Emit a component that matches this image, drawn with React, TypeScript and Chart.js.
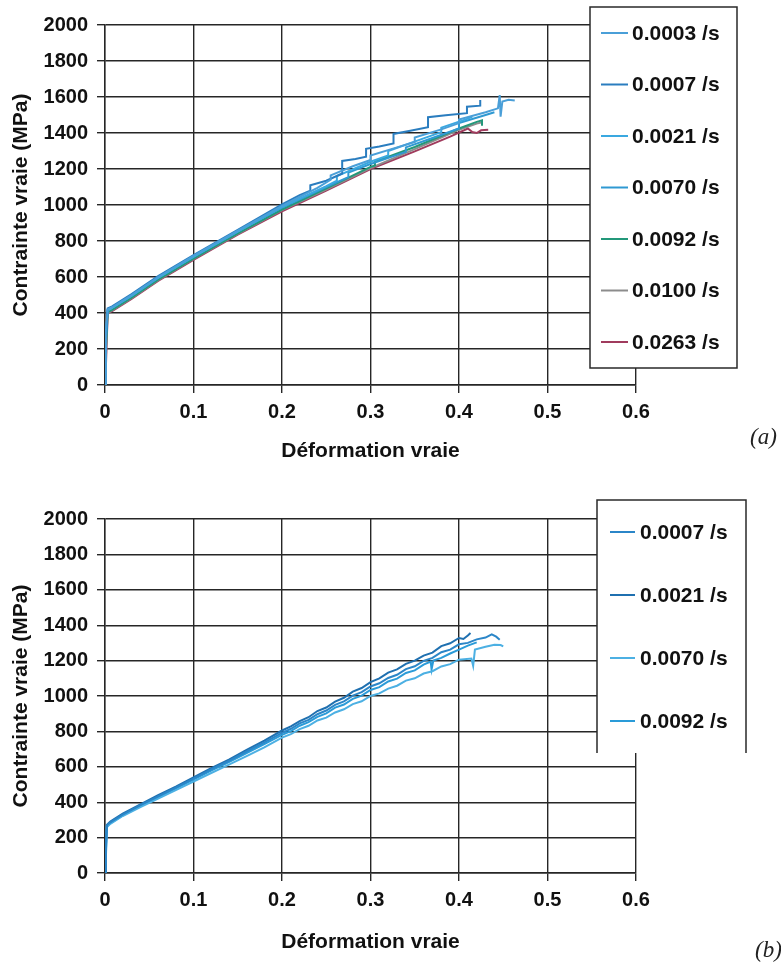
import React, { useEffect, useRef } from "react";
import { Chart, registerables } from "chart.js";
Chart.register(...registerables);

const FONT = '"Liberation Sans", Arial, sans-serif';

const X_TICK_LABELS = ["0", "0.1", "0.2", "0.3", "0.4", "0.5", "0.6"];
const Y_TICK_LABELS = ["0", "200", "400", "600", "800", "1000", "1200", "1400", "1600", "1800", "2000"];
const X_TITLE = "Déformation vraie";
const Y_TITLE = "Contrainte vraie (MPa)";

// ---- Panel (a) ----
const A_LABELS = ["0.0003 /s", "0.0007 /s", "0.0021 /s", "0.0070 /s", "0.0092 /s", "0.0100 /s", "0.0263 /s"];
const A_COLORS = ["#4a9fd8", "#2a7dbf", "#3aa8e0", "#2f99d2", "#23987a", "#8c8c8c", "#a03b5d"];

const A_0003: number[][] = [[0,0],[0.001,300],[0.003,420],[0.008,432],[0.03,500],[0.06,600],[0.1,718],[0.15,858],[0.2,995],[0.24,1095],[0.255,1140],[0.255,1165],[0.28,1215],[0.3,1250],[0.3,1275],[0.33,1320],[0.35,1350],[0.35,1375],[0.38,1420],[0.4,1455],[0.4,1475],[0.43,1515],[0.444,1537],[0.446,1611],[0.447,1491],[0.449,1575],[0.456,1585],[0.463,1580]];
const A_0007: number[][] = [[0,0],[0.001,250],[0.003,425],[0.008,437],[0.03,505],[0.06,605],[0.1,722],[0.15,862],[0.2,1003],[0.22,1055],[0.232,1080],[0.232,1110],[0.25,1135],[0.268,1175],[0.268,1245],[0.283,1255],[0.295,1268],[0.295,1312],[0.31,1325],[0.326,1342],[0.326,1395],[0.345,1412],[0.365,1432],[0.365,1488],[0.385,1498],[0.409,1510],[0.409,1546],[0.424,1552],[0.424,1583]];
const A_0021: number[][] = [[0,0],[0.001,280],[0.003,415],[0.008,428],[0.03,495],[0.06,595],[0.1,712],[0.15,852],[0.2,990],[0.25,1105],[0.262,1135],[0.262,1160],[0.3,1240],[0.32,1275],[0.32,1300],[0.36,1370],[0.38,1405],[0.38,1430],[0.41,1480],[0.415,1490]];
const A_0070: number[][] = [[0,0],[0.001,260],[0.003,418],[0.008,430],[0.03,497],[0.06,597],[0.1,714],[0.15,853],[0.2,985],[0.25,1100],[0.275,1155],[0.275,1180],[0.3,1228],[0.34,1295],[0.34,1320],[0.37,1372],[0.4,1425],[0.4,1455],[0.43,1500],[0.44,1515]];
const A_0092: number[][] = [[0,0],[0.001,200],[0.003,405],[0.008,418],[0.03,485],[0.06,585],[0.1,702],[0.15,842],[0.2,975],[0.25,1092],[0.3,1212],[0.305,1220],[0.305,1240],[0.35,1322],[0.4,1425],[0.42,1462],[0.426,1470],[0.426,1440]];
const A_0100: number[][] = [[0,0],[0.001,150],[0.003,400],[0.008,414],[0.03,482],[0.06,582],[0.1,700],[0.15,840],[0.2,972],[0.25,1086],[0.3,1205],[0.35,1310],[0.4,1418],[0.42,1452],[0.425,1458]];
const A_0263: number[][] = [[0,0],[0.001,100],[0.003,398],[0.008,410],[0.03,478],[0.06,578],[0.1,695],[0.15,835],[0.2,965],[0.25,1080],[0.3,1200],[0.35,1298],[0.39,1380],[0.41,1425],[0.415,1405],[0.42,1400],[0.425,1415],[0.433,1418]];
const A_SERIES = [A_0003, A_0007, A_0021, A_0070, A_0092, A_0100, A_0263];

// ---- Panel (b) ----
const B_LABELS = ["0.0007 /s", "0.0021 /s", "0.0070 /s", "0.0092 /s"];
const B_COLORS = ["#2b86c8", "#1f70b0", "#4cb0e3", "#2a9bd8"];

const B_0007: number[][] = [[0,0],[0.001,120],[0.002,268],[0.006,286],[0.02,330],[0.04,383],[0.06,433],[0.08,482],[0.1,533],[0.12,585],[0.14,633],[0.16,687],[0.18,738],[0.2,792],[0.21,815],[0.22,845],[0.23,865],[0.24,897],[0.25,918],[0.26,950],[0.27,970],[0.28,1002],[0.29,1022],[0.3,1054],[0.31,1072],[0.32,1102],[0.33,1120],[0.34,1152],[0.35,1168],[0.36,1198],[0.37,1215],[0.38,1247],[0.39,1262],[0.4,1292],[0.41,1300],[0.42,1320],[0.43,1330],[0.437,1348],[0.442,1335],[0.446,1318]];
const B_0021: number[][] = [[0,0],[0.001,150],[0.002,272],[0.006,290],[0.02,335],[0.04,388],[0.06,440],[0.08,488],[0.1,540],[0.12,592],[0.14,640],[0.16,695],[0.18,748],[0.2,805],[0.21,828],[0.22,858],[0.23,880],[0.24,915],[0.25,935],[0.26,968],[0.27,990],[0.28,1025],[0.29,1045],[0.3,1078],[0.31,1100],[0.32,1132],[0.33,1150],[0.34,1182],[0.35,1200],[0.36,1228],[0.37,1245],[0.38,1282],[0.39,1298],[0.4,1328],[0.405,1322],[0.41,1342],[0.413,1356]];
const B_0070: number[][] = [[0,0],[0.001,80],[0.002,258],[0.006,278],[0.02,322],[0.04,372],[0.06,420],[0.08,468],[0.1,517],[0.12,565],[0.14,612],[0.16,660],[0.18,710],[0.2,765],[0.21,785],[0.22,813],[0.23,832],[0.24,862],[0.25,878],[0.26,907],[0.27,925],[0.28,954],[0.29,970],[0.3,1000],[0.31,1015],[0.32,1042],[0.33,1058],[0.34,1087],[0.35,1100],[0.36,1127],[0.37,1140],[0.38,1167],[0.39,1180],[0.4,1205],[0.414,1212],[0.416,1170],[0.418,1262],[0.43,1278],[0.44,1290],[0.447,1288],[0.45,1280]];
const B_0092: number[][] = [[0,0],[0.001,100],[0.002,262],[0.006,282],[0.02,326],[0.04,378],[0.06,428],[0.08,477],[0.1,528],[0.12,578],[0.14,627],[0.16,678],[0.18,728],[0.2,780],[0.21,802],[0.22,832],[0.23,852],[0.24,882],[0.25,902],[0.26,934],[0.27,952],[0.28,984],[0.29,1002],[0.3,1034],[0.31,1050],[0.32,1082],[0.33,1098],[0.34,1130],[0.35,1145],[0.36,1177],[0.368,1195],[0.369,1150],[0.371,1200],[0.38,1215],[0.39,1240],[0.4,1262],[0.41,1285],[0.42,1303]];
const B_SERIES = [B_0007, B_0021, B_0070, B_0092];

type LegendBox = {
  x: number; y: number; w: number; h: number; openBottom: boolean;
  firstY: number; gap: number; lineX0: number; lineX1: number; textX: number;
};

function legendPlugin(box: LegendBox) {
  return {
    id: "boxLegend",
    afterDraw(chart: any) {
      const ctx = chart.ctx;
      ctx.save();
      ctx.fillStyle = "#ffffff";
      ctx.fillRect(box.x, box.y, box.w, box.h);
      ctx.strokeStyle = "#2a2a2a";
      ctx.lineWidth = 1.5;
      ctx.beginPath();
      if (box.openBottom) {
        ctx.moveTo(box.x, box.y + box.h);
        ctx.lineTo(box.x, box.y);
        ctx.lineTo(box.x + box.w, box.y);
        ctx.lineTo(box.x + box.w, box.y + box.h);
      } else {
        ctx.rect(box.x, box.y, box.w, box.h);
      }
      ctx.stroke();
      chart.data.datasets.forEach((ds: any, i: number) => {
        const cy = box.firstY + i * box.gap;
        ctx.strokeStyle = ds.borderColor;
        ctx.lineWidth = 2;
        ctx.beginPath();
        ctx.moveTo(box.lineX0, cy);
        ctx.lineTo(box.lineX1, cy);
        ctx.stroke();
        ctx.fillStyle = "#111111";
        ctx.font = "bold 21px " + FONT;
        ctx.textBaseline = "middle";
        ctx.textAlign = "left";
        ctx.fillText(ds.label, box.textX, cy + 1);
      });
      ctx.restore();
    },
  };
}

type PanelProps = {
  top: number; height: number; areaTop: number; areaBottom: number;
  labels: string[]; colors: string[]; series: number[][][];
  titleBottomPad: number; legend: LegendBox;
};

function Panel(p: PanelProps) {
  const ref = useRef<HTMLCanvasElement | null>(null);
  useEffect(() => {
    if (!ref.current) return;
    const grid = {
      display: true, color: "#262626", lineWidth: 1.4, drawTicks: true, tickLength: 8,
    };
    const border = { display: true, color: "#262626", width: 1.4 };
    const chart = new Chart(ref.current, {
      type: "line",
      data: {
        datasets: p.series.map((s, i) => ({
          label: p.labels[i],
          data: s.map(([x, y]) => ({ x, y })),
          borderColor: p.colors[i],
          backgroundColor: p.colors[i],
          borderWidth: 2,
          pointRadius: 0,
          tension: 0,
          fill: false,
        })),
      },
      options: {
        animation: false,
        responsive: false,
        maintainAspectRatio: false,
        layout: { padding: { left: 0, top: p.areaTop, right: 781 - 636, bottom: 0 } },
        plugins: { legend: { display: false }, tooltip: { enabled: false } },
        scales: {
          x: {
            type: "linear", min: 0, max: 0.6,
            grid, border,
            ticks: {
              stepSize: 0.1, padding: 7, color: "#111",
              font: { family: FONT, size: 20, weight: "bold" },
              callback: (_v: any, i: number) => X_TICK_LABELS[i],
            },
            title: {
              display: true, text: X_TITLE, color: "#111",
              font: { family: FONT, size: 21, weight: "bold" },
              padding: { top: 0, bottom: p.titleBottomPad },
            },
            afterFit: (scale: any) => { scale.height = p.height - p.areaBottom; },
          },
          y: {
            type: "linear", min: 0, max: 2000,
            grid, border,
            ticks: {
              stepSize: 200, padding: 9, color: "#111",
              font: { family: FONT, size: 20, weight: "bold" },
              callback: (_v: any, i: number) => Y_TICK_LABELS[i],
            },
            title: {
              display: true, text: Y_TITLE, color: "#111",
              font: { family: FONT, size: 21, weight: "bold" },
              padding: { top: 9, bottom: 0 },
            },
            afterFit: (scale: any) => { scale.width = 105; },
          },
        },
      } as any,
      plugins: [legendPlugin(p.legend)],
    });
    return () => chart.destroy();
  }, []);
  return (
    <canvas
      ref={ref}
      width={781}
      height={p.height}
      style={{ position: "absolute", left: 0, top: p.top, width: 781, height: p.height }}
    />
  );
}

export default function App() {
  return (
    <div style={{ position: "absolute", left: 0, top: 0, width: 781, height: 970, background: "#fff", overflow: "hidden" }}>
      <Panel
        top={0} height={470} areaTop={25} areaBottom={385}
        labels={A_LABELS} colors={A_COLORS} series={A_SERIES} titleBottomPad={6}
        legend={{ x: 590, y: 7, w: 147, h: 361, openBottom: false, firstY: 33, gap: 51.5, lineX0: 601, lineX1: 628, textX: 632 }}
      />
      <Panel
        top={470} height={500} areaTop={49} areaBottom={403}
        labels={B_LABELS} colors={B_COLORS} series={B_SERIES} titleBottomPad={15}
        legend={{ x: 597, y: 30, w: 149, h: 253, openBottom: true, firstY: 62, gap: 63, lineX0: 610, lineX1: 635, textX: 640 }}
      />
      <span style={{ position: "absolute", left: 750, top: 424, lineHeight: "26px", fontFamily: '"Liberation Serif", serif', fontStyle: "italic", fontSize: 23, color: "#222" }}>(a)</span>
      <span style={{ position: "absolute", left: 755, top: 937, lineHeight: "26px", fontFamily: '"Liberation Serif", serif', fontStyle: "italic", fontSize: 23, color: "#222" }}>(b)</span>
    </div>
  );
}
